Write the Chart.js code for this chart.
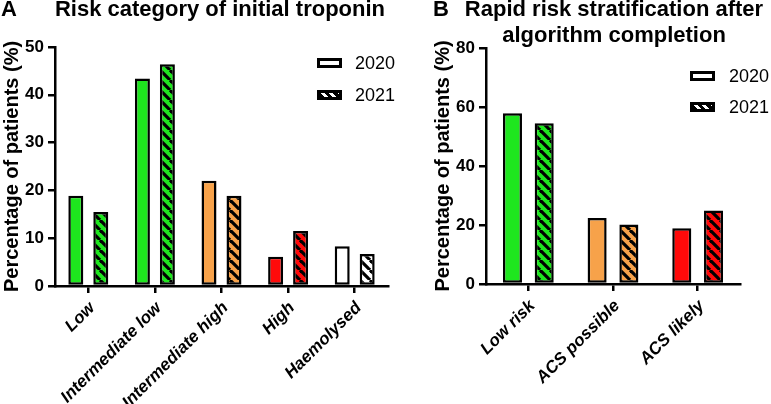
<!DOCTYPE html>
<html>
<head>
<meta charset="utf-8">
<script src="https://cdn.jsdelivr.net/npm/chart.js@4.4.1/dist/chart.umd.min.js"></script>
<style>
  body { margin: 0; background: #fff; font-family: "Liberation Sans", Arial, sans-serif; }
  #wrap { position: relative; width: 771px; height: 404px; overflow: hidden; }
  canvas { position: absolute; top: 0; }
  .t { position: absolute; font-weight: bold; font-size: 22px; line-height: 22px; white-space: nowrap; color: #000; }
  .leg { position: absolute; font-size: 18px; line-height: 18px; color: #000; }
  .sw { position: absolute; width: 19px; height: 4px; border: 3px solid #000; background: #fff; }
  .sw.h { background: repeating-linear-gradient(45deg, #000 0 3px, #fff 3px 6px); }
</style>
</head>
<body>
<div id="wrap">
  <canvas id="chartA" width="390" height="404" style="left:0"></canvas>
  <canvas id="chartB" width="381" height="404" style="left:390px"></canvas>

  <div class="t" style="left:1px;top:-2px">A</div>
  <div class="t" style="left:20px;top:-2px;width:400px;text-align:center">Risk category of initial troponin</div>
  <div class="t" style="left:433px;top:-2px">B</div>
  <div class="t" style="left:414px;top:-2px;width:400px;text-align:center">Rapid risk stratification after</div>
  <div class="t" style="left:414px;top:24px;width:400px;text-align:center">algorithm completion</div>

  <div class="sw" style="left:317px;top:58px"></div><div class="leg" style="left:355px;top:54px">2020</div>
  <div class="sw h" style="left:317px;top:90px"></div><div class="leg" style="left:355px;top:86px">2021</div>
  <div class="sw" style="left:690px;top:71px"></div><div class="leg" style="left:729px;top:67px">2020</div>
  <div class="sw h" style="left:690px;top:102px"></div><div class="leg" style="left:729px;top:98px">2021</div>
</div>
<script>
// panel A: risk category of initial troponin
const categoriesA = ["Low", "Intermediate low", "Intermediate high", "High", "Haemolysed"];
const values2020A = [18.9, 43.4, 22.0, 6.1, 8.3];
const values2021A = [15.5, 46.4, 18.9, 11.5, 6.7];
const ticksA = { max: 50, step: 10 };

// panel B: stratification after algorithm completion
const categoriesB = ["Low risk", "ACS possible", "ACS likely"];
const values2020B = [57.9, 22.4, 18.9];
const values2021B = [54.5, 20.2, 24.9];
const ticksB = { max: 80, step: 20 };

const GREEN = "#1ee61e";
const ORANGE = "#f7a24a";
const RED = "#ff0a0a";
const WHITE = "#ffffff";
const colorsA = [GREEN, GREEN, ORANGE, RED, WHITE];
const colorsB = [GREEN, ORANGE, RED];

const FONT = "'Liberation Sans', Arial, sans-serif";

function hatch(color) {
  const s = 10;
  const c = document.createElement("canvas");
  c.width = s; c.height = s;
  const g = c.getContext("2d");
  g.fillStyle = color;
  g.fillRect(0, 0, s, s);
  g.strokeStyle = "#000";
  g.lineWidth = 3.2;
  [-1, 0, 1].forEach((k) => {
    g.beginPath();
    g.moveTo(k * s, 0);
    g.lineTo(k * s + s, s);
    g.stroke();
  });
  return g.createPattern(c, "repeat");
}

function barSet(label, data, fill) {
  return {
    label,
    data,
    backgroundColor: fill,
    borderColor: "#000",
    borderWidth: 2.5,
    borderSkipped: false,
    categoryPercentage: 0.75,
    barPercentage: 0.6,
  };
}

function makeChart(id, labels, d2020, d2021, colors, yTicks, pad, yWidth, xHeight) {
  return new Chart(document.getElementById(id), {
    type: "bar",
    data: {
      labels,
      datasets: [
        barSet("2020", d2020, colors),
        barSet("2021", d2021, colors.map(hatch)),
      ],
    },
    options: {
      responsive: false,
      animation: false,
      layout: { padding: pad },
      plugins: { legend: { display: false }, tooltip: { enabled: false } },
      scales: {
        x: {
          grid: { display: true, drawOnChartArea: false, offset: false, color: "#000", lineWidth: 2.5, tickLength: 7 },
          border: { color: "#000", width: 2.5 },
          ticks: {
            autoSkip: false, minRotation: 45, maxRotation: 45, padding: 5, labelOffset: 4, color: "#000",
            font: { family: FONT, size: 17, weight: "bold", style: "italic" },
          },
          afterFit: (s) => { s.height = xHeight; },
        },
        y: {
          min: 0,
          max: yTicks.max,
          grid: { display: true, drawOnChartArea: false, color: "#000", lineWidth: 2.5, tickLength: 7 },
          border: { color: "#000", width: 2.5 },
          ticks: { stepSize: yTicks.step, padding: 4, color: "#000", font: { family: FONT, size: 17, weight: "bold" } },
          title: { display: true, text: "Percentage of patients (%)", color: "#000", padding: 0, font: { family: FONT, size: 20, weight: "bold" } },
          afterFit: (s) => { s.width = yWidth; },
        },
      },
    },
  });
}

makeChart("chartA", categoriesA, values2020A, values2021A, colorsA, ticksA, { top: 47, left: 0, right: 2, bottom: 0 }, 55, 118);
makeChart("chartB", categoriesB, values2020B, values2021B, colorsB, ticksB, { top: 48, left: 41, right: 31, bottom: 0 }, 55, 120);
</script>
</body>
</html>
